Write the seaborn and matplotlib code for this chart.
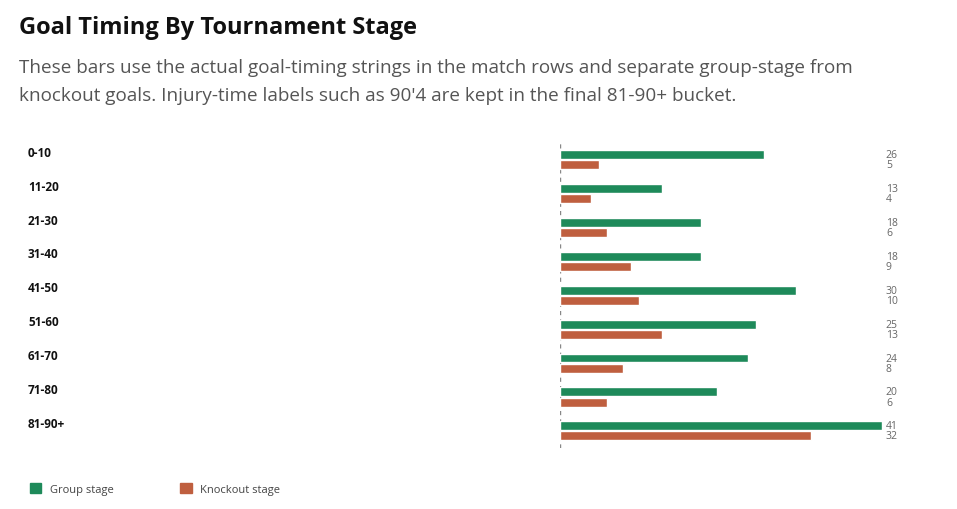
import matplotlib
matplotlib.use("Agg")
import matplotlib.pyplot as plt
import matplotlib.transforms as mtransforms
from matplotlib.patches import Patch
import seaborn as sns
import pandas as pd

buckets = ['0-10', '11-20', '21-30', '31-40', '41-50', '51-60', '61-70', '71-80', '81-90+']
group_goals = [26, 13, 18, 18, 30, 25, 24, 20, 41]
knockout_goals = [5, 4, 6, 9, 10, 13, 8, 6, 32]
stages = ['Group stage', 'Knockout stage']
colors = ['#1e8a5a', '#bf5f3f']

df = pd.DataFrame({
    'bucket': buckets * 2,
    'goals': group_goals + knockout_goals,
    'stage': [stages[0]] * len(buckets) + [stages[1]] * len(buckets),
})

sns.set_style('white')
plt.rcParams['font.family'] = ['Open Sans', 'DejaVu Sans']

fig = plt.figure(figsize=(9.57, 5.10), dpi=100)
ax = fig.add_axes([560 / 957, 0.12, 322 / 957, 0.598])
sns.barplot(data=df, y='bucket', x='goals', hue='stage', palette=colors,
            orient='h', width=0.6, gap=0.12, saturation=1, ax=ax, legend=False)
ax.set_xlim(0, 41)
ax.set_ylim(8.5, -0.5)
for s in ax.spines.values():
    s.set_visible(False)
ax.set_xticks([])
ax.set_yticks([])
ax.set_xlabel('')
ax.set_ylabel('')
ax.axvline(0, color='#888888', lw=1, ls=(0, (3, 3)), zorder=0)

tr = mtransforms.blended_transform_factory(fig.transFigure, ax.transData)
off = 0.15
for i, b in enumerate(buckets):
    fig.text(28 / 957, i - 0.22, b, transform=tr, fontsize=8.5, fontweight='bold',
             color='#111111', va='center', ha='left')
    ax.text(41.5, i - off, str(group_goals[i]), fontsize=7.5, color='#666666', va='center')
    ax.text(41.5, i + off, str(knockout_goals[i]), fontsize=7.5, color='#666666', va='center')

fig.text(19 / 957, 1 - 28 / 510, 'Goal Timing By Tournament Stage', fontsize=17,
         fontweight='bold', color='#111111', va='center')
fig.text(19 / 957, 1 - 82 / 510,
         'These bars use the actual goal-timing strings in the match rows and separate group-stage from\n'
         "knockout goals. Injury-time labels such as 90'4 are kept in the final 81-90+ bucket.",
         fontsize=13.6, color='#555555', va='center', linespacing=1.65)

handles = [Patch(color=c) for c in colors]
fig.legend(handles, stages, loc='center left', bbox_to_anchor=(20 / 957, 1 - 490 / 510),
           ncol=2, frameon=False, fontsize=8, handlelength=1, handleheight=1,
           columnspacing=6, handletextpad=0.8, labelcolor='#444444')

fig.savefig('out.png', dpi=100)
